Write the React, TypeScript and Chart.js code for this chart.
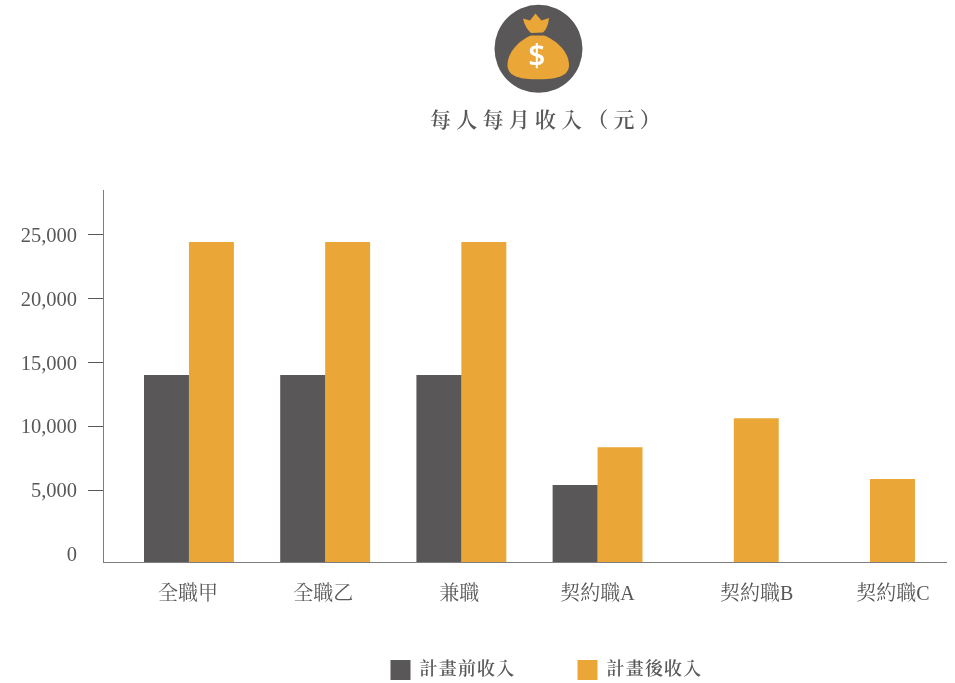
import React, { useEffect, useRef } from "react";
import { Chart, registerables, CategoryScale, LinearScale } from "chart.js";

const categories = ["全職甲", "全職乙", "兼職", "契約職A", "契約職B", "契約職C"];
const beforeIncome = [14000, 14000, 14000, 5400, null, null];
const afterIncome = [24400, 24400, 24400, 8350, 10620, 5860];
const seriesNames = ["計畫前收入", "計畫後收入"];
const chartTitle = "每人每月收入（元）";
const yTicks = [0, 5000, 10000, 15000, 20000, 25000];

const GRAY = "#595757";
const ORANGE = "#EAA636";
const FONT = '"Liberation Serif","Noto Serif CJK TC","Noto Sans CJK TC",serif';
const AXIS_FLOOR = -625;
const AXIS_TOP = 28440;
const LABEL_SHIFT = [-1, -2, -2, 0, 23, 23];

class PaddedCategory extends CategoryScale {
  static id = "paddedCategory";
  static defaults = CategoryScale.defaults;
  configure() {
    super.configure();
    const s = this as any;
    s._startValue = s.min - 0.5 - 0.131;
    s._valueRange = s.max - s.min + 1 + 0.189;
  }
  _computeLabelItems(area: any) {
    const items = super._computeLabelItems(area) as any;
    items.forEach((it: any, i: number) => {
      it.options.translation[0] += LABEL_SHIFT[i] || 0;
    });
    return items;
  }
}

class NudgedLinear extends LinearScale {
  static id = "nudgedLinear";
  static defaults = LinearScale.defaults;
  _computeLabelItems(area: any) {
    const items = super._computeLabelItems(area) as any;
    items.forEach((it: any) => {
      it.options.translation[1] += 2;
    });
    return items;
  }
}
Chart.register(...registerables, PaddedCategory, NudgedLinear);

function spaced(box: any, method: string, spacing: string, after?: () => void, before?: () => void) {
  const orig = box[method].bind(box);
  box[method] = (...args: any[]) => {
    const ctx = box.ctx as any;
    if (before) before();
    ctx.letterSpacing = spacing;
    const r = orig(...args);
    ctx.letterSpacing = "0px";
    if (after) after();
    return r;
  };
}

const decorPlugin = {
  id: "decor",
  afterInit(chart: any) {
    const legend = chart.legend;
    const title = chart.titleBlock;
    spaced(legend, "fit", "1.2px", () => {
      legend.height = 40;
    });
    spaced(legend, "draw", "1.2px", undefined, () => {
      legend.left = 69;
      legend.right = 1024;
      legend.top = 598;
      legend.bottom = 683;
    });
    spaced(title, "draw", "5.2px", undefined, () => {
      title.left = 141;
      title.right = 955;
    });
  },
  afterDraw(chart: any) {
    const c = chart.ctx as CanvasRenderingContext2D;
    c.save();
    c.fillStyle = GRAY;
    c.beginPath();
    c.arc(538.5, 48.8, 44, 0, Math.PI * 2);
    c.fill();
    c.fillStyle = ORANGE;
    c.beginPath();
    c.moveTo(523, 18.5);
    c.lineTo(530, 20.5);
    c.lineTo(535.5, 13.5);
    c.lineTo(541.5, 20.5);
    c.lineTo(549, 18);
    c.quadraticCurveTo(548, 28, 543, 32.5);
    c.lineTo(531, 33);
    c.quadraticCurveTo(525, 28, 523, 18.5);
    c.fill();
    c.beginPath();
    c.moveTo(531, 35.5);
    c.lineTo(544, 35.5);
    c.bezierCurveTo(558, 41, 569, 53, 569, 65);
    c.bezierCurveTo(569, 77, 555, 79.3, 538, 79.3);
    c.bezierCurveTo(521, 79.3, 507.5, 77, 507.5, 65);
    c.bezierCurveTo(507.5, 53, 518, 41, 531, 35.5);
    c.fill();
    c.fillStyle = "#ffffff";
    c.font = '600 30px "Open Sans",sans-serif';
    c.textAlign = "center";
    c.textBaseline = "middle";
    c.fillText("$", 536.8, 57);
    c.restore();
  },
};

export default function App() {
  const ref = useRef<HTMLCanvasElement>(null);
  useEffect(() => {
    document.body.style.margin = "0";
    const chart = new Chart(ref.current as HTMLCanvasElement, {
      type: "bar",
      data: {
        labels: categories,
        datasets: [
          { label: seriesNames[0], data: beforeIncome, backgroundColor: GRAY, base: AXIS_FLOOR, borderWidth: 0 },
          { label: seriesNames[1], data: afterIncome, backgroundColor: ORANGE, base: AXIS_FLOOR, borderWidth: 0 },
        ],
      } as any,
      options: {
        animation: false,
        responsive: false,
        devicePixelRatio: 1,
        layout: { padding: { left: 0, right: 9, top: 0, bottom: 0 } },
        datasets: { bar: { categoryPercentage: 0.66, barPercentage: 1 } },
        plugins: {
          tooltip: { enabled: false },
          title: {
            display: true,
            text: chartTitle,
            color: GRAY,
            font: { family: FONT, size: 21, weight: "600", lineHeight: 1.2 },
            padding: { top: 109, bottom: 56 },
          },
          legend: {
            position: "bottom",
            labels: {
              boxWidth: 20,
              boxHeight: 20,
              padding: 62,
              color: GRAY,
              font: { family: FONT, size: 18, weight: "600" },
            },
          },
        },
        scales: {
          x: {
            type: "paddedCategory",
            offset: true,
            afterFit: (s: any) => {
              s.height = 81;
            },
            grid: { display: false },
            border: { display: true, color: "#7d7d7d", width: 1 },
            ticks: { color: GRAY, font: { family: FONT, size: 20 }, padding: 13, maxRotation: 0, autoSkip: false },
          },
          y: {
            type: "nudgedLinear",
            min: AXIS_FLOOR,
            max: AXIS_TOP,
            afterFit: (s: any) => {
              s.width = 103;
            },
            afterBuildTicks: (s: any) => {
              s.ticks = yTicks.map((value) => ({ value }));
            },
            grid: {
              drawOnChartArea: false,
              drawTicks: true,
              tickLength: 15,
              color: (c: any) => (c.tick && c.tick.value === 0 ? "rgba(0,0,0,0)" : GRAY),
            },
            border: { display: true, color: "#7d7d7d", width: 1 },
            ticks: {
              color: GRAY,
              padding: 11,
              font: { family: FONT, size: 20.5 },
              callback: (v: any) => Number(v).toLocaleString("en-US"),
            },
          },
        },
      } as any,
      plugins: [decorPlugin as any],
    });
    return () => chart.destroy();
  }, []);
  return <canvas ref={ref} width={955} height={683} style={{ display: "block" }} />;
}
